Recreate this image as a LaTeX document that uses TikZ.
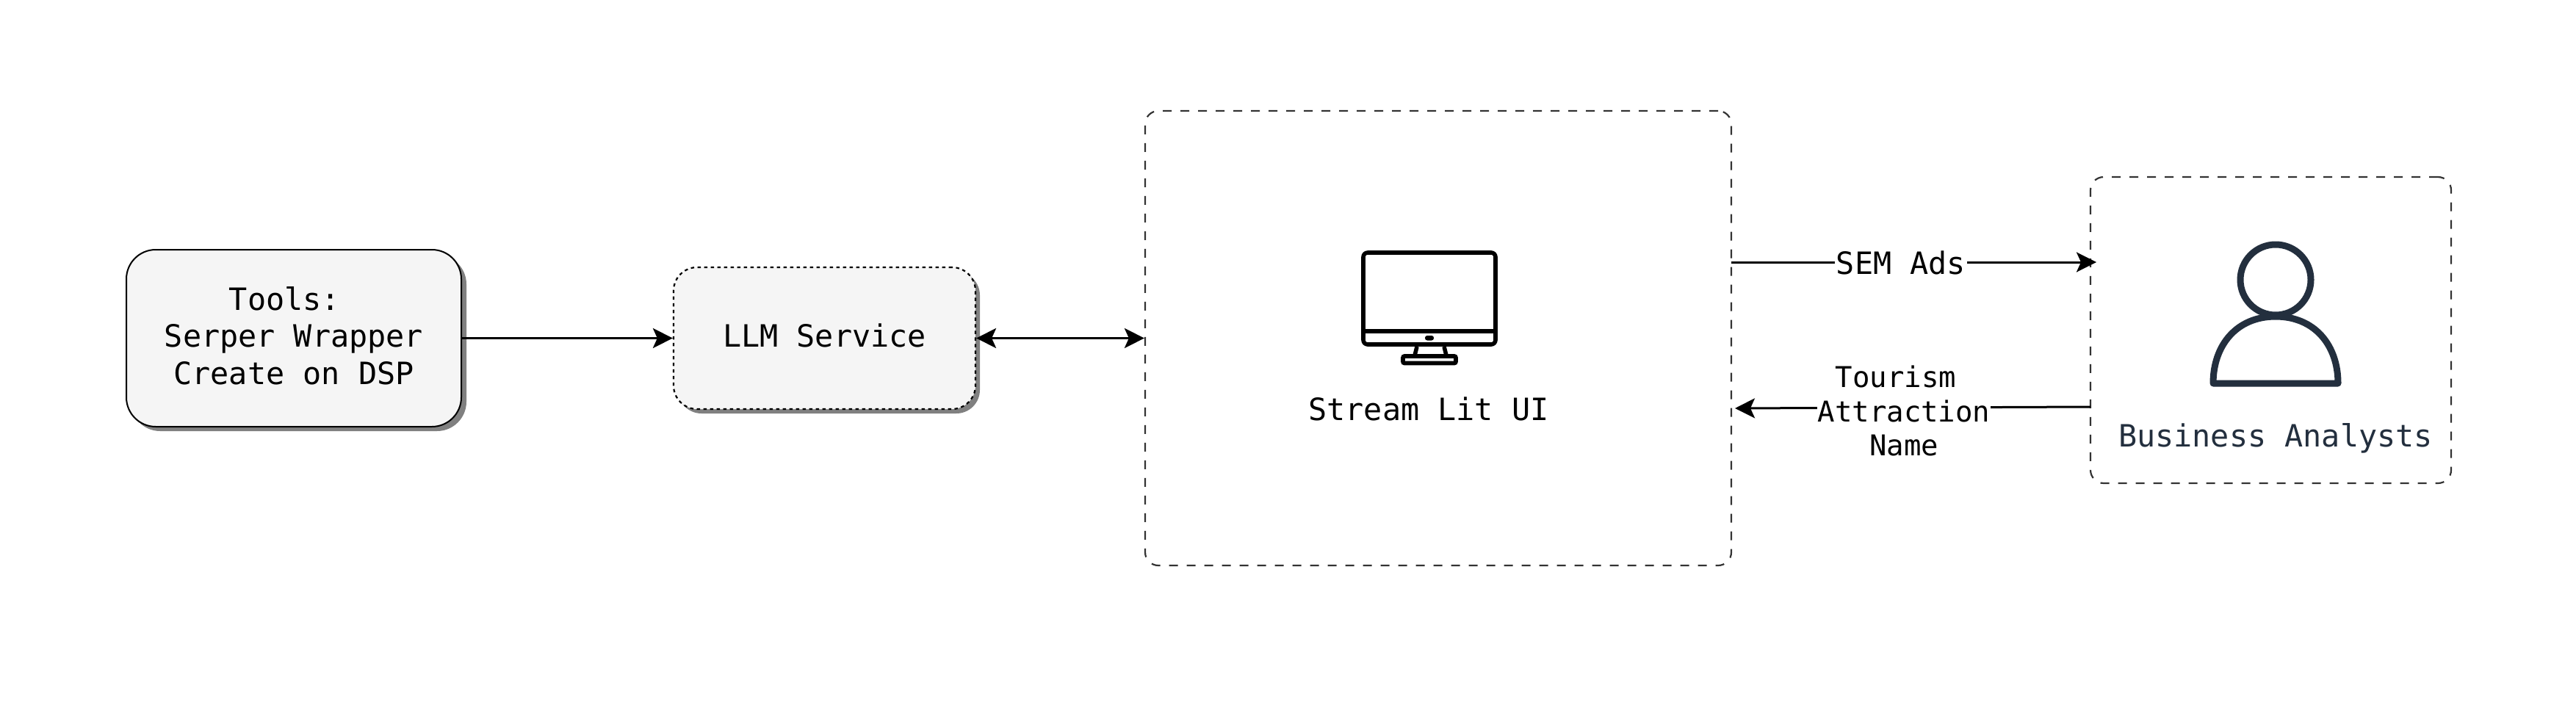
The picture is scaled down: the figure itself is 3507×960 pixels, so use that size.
\documentclass[tikz,border=0pt]{standalone}
\usepackage{fontspec}
\setmainfont{DejaVu Sans Mono}
\usetikzlibrary{arrows.meta}
\definecolor{ink}{HTML}{232F3E}
\definecolor{panel}{HTML}{F5F5F5}
\definecolor{castgray}{HTML}{808080}
\tikzset{
  x=1pt,y=-1pt,
  txt/.style={font=\fontsize{41.8}{50}\selectfont,align=center,inner sep=0pt},
  smalltxt/.style={font=\fontsize{39}{46}\selectfont,align=center,inner sep=0pt},
  lab/.style={fill=white,inner sep=1pt},
  tip/.style={-{Stealth[length=27pt,width=27pt,inset=6pt]}},
  link/.style={line width=3pt,tip},
  framebox/.style={draw=black!80,line width=2.2pt,dash pattern=on 12pt off 12pt,rounded corners=18pt,fill=white,inner sep=0pt},
  softbox/.style={fill=panel,inner sep=0pt},
  icon/.style={draw=black,line width=5.6pt,rounded corners=6pt},
  person/.style={draw=ink,line width=9pt,line join=round},
}
\begin{document}
\begin{tikzpicture}
\useasboundingbox (0,0) rectangle (3507,960);
\fill[white] (0,0) rectangle (3507,960);
% cast shadows
\fill[castgray,rounded corners=40pt] (178,347) rectangle (635,587);
\fill[castgray,rounded corners=32pt] (923,370) rectangle (1334,563);
% boxes
\node[softbox,draw=black,line width=2pt,rounded corners=40pt,minimum width=456pt,minimum height=241pt] (tools) at (400,460.5) {};
\node[softbox,draw=black,line width=2.2pt,dash pattern=on 4.5pt off 4.5pt,rounded corners=32pt,minimum width=411pt,minimum height=193pt] (llm) at (1122.5,460.5) {};
\node[framebox,minimum width=798pt,minimum height=619pt] (ui) at (1958,460.5) {};
\node[framebox,minimum width=491pt,minimum height=417pt] (ba) at (3091.5,449.5) {};
% texts
\node[txt,anchor=base] (t1) at (400,422) {Tools:\phantom{x}};
\node[txt,anchor=base] (t2) at (400,472) {Serper Wrapper};
\node[txt,anchor=base] (t3) at (400,523) {Create on DSP};
\node[txt,anchor=base] (llmt) at (1122.5,472) {LLM Service};
\node[txt,anchor=base] (uit) at (1945,572) {Stream Lit UI};
\node[txt,anchor=base,text=ink] (bat) at (3098,608) {Business Analysts};
% monitor icon
\draw[icon] (1856,344) rectangle (2036,469);
\draw[line width=5.6pt] (1853,451) -- (2039,451);
\fill[black,rounded corners=3pt] (1940,457) rectangle (1952,463.5);
\draw[line width=5.6pt] (1929,472) -- (1926,484) (1966,472) -- (1969,484);
\draw[line width=5.6pt,rounded corners=2pt] (1910,485) rectangle (1982,494.5);
% person icon
\draw[person] (3098,381) circle[radius=48];
\draw[person] (3013,522) .. controls (3013,470) and (3045,431) .. (3098,431) .. controls (3151,431) and (3183,470) .. (3183,522) -- cycle;
% connectors
\coordinate (semA) at (2357,357);
\coordinate (semB) at (2854,357);
\coordinate (tourA) at (2846,554);
\coordinate (tourB) at (2362,556);
\draw[link] (tools.east) -- (llm.west);
\draw[line width=3pt,{Stealth[length=27pt,width=27pt,inset=6pt]}-{Stealth[length=27pt,width=27pt,inset=6pt]}] (llm.east) -- (ui.west);
\draw[link] (semA) -- (semB);
\draw[link] (tourA) -- (tourB);
\node[txt,lab,anchor=base,minimum width=180pt] (sem) at (2588,373) {SEM Ads};
\node[smalltxt,lab,anchor=base,minimum width=236pt,text depth=4pt] (attr) at (2592,574) {Attraction};
\node[smalltxt,anchor=base] (tour) at (2581,527) {Tourism};
\node[smalltxt,anchor=base] (name) at (2592,620) {Name};
\end{tikzpicture}
\end{document}
